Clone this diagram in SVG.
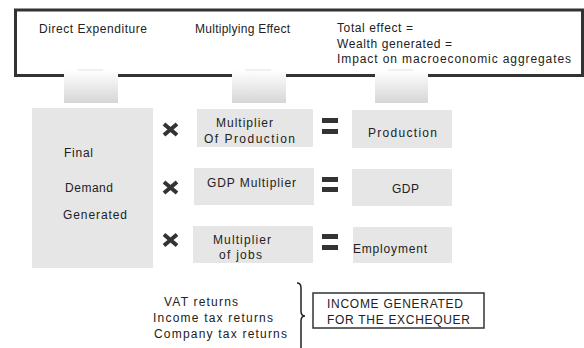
<svg xmlns="http://www.w3.org/2000/svg" width="584" height="348" viewBox="0 0 584 348">
<style>
text{font-family:"Liberation Sans",Arial,sans-serif;fill:#222;}
.t{font-size:12px;}
.m{font-size:12px;}
.b{fill:#e6e6e6;}
.op{stroke:#333;stroke-width:4;stroke-linecap:butt;fill:none;}
.eq{fill:#333;}
</style>
<defs>
<linearGradient id="stub" x1="0" y1="0" x2="0" y2="1">
<stop offset="0" stop-color="#ffffff"/>
<stop offset="1" stop-color="#d6d6d6"/>
</linearGradient>
</defs>
<rect width="584" height="348" fill="#fff"/>
<g id="header">
<rect x="15.5" y="10" width="567" height="65.5" fill="#fff" stroke="#333" stroke-width="3"/>
<text class="t" x="39" y="33" textLength="108" lengthAdjust="spacing">Direct Expenditure</text>
<text class="t" x="195" y="33" textLength="95" lengthAdjust="spacing">Multiplying Effect</text>
<text class="t" x="337" y="32" textLength="76" lengthAdjust="spacing">Total effect =</text>
<text class="t" x="337" y="48" textLength="115" lengthAdjust="spacing">Wealth generated =</text>
<text class="t" x="337" y="63" textLength="234" lengthAdjust="spacing">Impact on macroeconomic aggregates</text>
</g>
<g id="connectors">
<rect x="64" y="70" width="54" height="33" fill="url(#stub)"/>
<line x1="78" y1="70" x2="103" y2="70" stroke="#e2e2e2" stroke-width="1"/>
<rect x="232" y="70" width="54" height="33" fill="url(#stub)"/>
<line x1="245" y1="70" x2="271" y2="70" stroke="#e2e2e2" stroke-width="1"/>
<rect x="375" y="70" width="53" height="33" fill="url(#stub)"/>
<line x1="388" y1="70" x2="413" y2="70" stroke="#e2e2e2" stroke-width="1"/>
</g>
<g id="final-demand">
<rect class="b" x="32" y="108" width="121" height="160"/>
<text class="m" x="64" y="157" textLength="29" lengthAdjust="spacing">Final</text>
<text class="m" x="65" y="192" textLength="48" lengthAdjust="spacing">Demand</text>
<text class="m" x="63" y="219" textLength="64" lengthAdjust="spacing">Generated</text>
</g>
<g id="times">
<path class="op" d="M164,124 L177,135 M177,124 L164,135"/>
<path class="op" d="M164,182 L177,193 M177,182 L164,193"/>
<path class="op" d="M164,234.5 L177,245.5 M177,234.5 L164,245.5"/>
</g>
<g id="mult-production">
<rect class="b" x="197" y="109" width="116" height="38"/>
<text class="m" x="216" y="127" textLength="57" lengthAdjust="spacing">Multiplier</text>
<text class="m" x="204" y="143" textLength="91" lengthAdjust="spacing">Of Production</text>
</g>
<g id="mult-gdp">
<rect class="b" x="194" y="168" width="120" height="37"/>
<text class="m" x="207" y="187" textLength="89" lengthAdjust="spacing">GDP Multiplier</text>
</g>
<g id="mult-jobs">
<rect class="b" x="193" y="226" width="120" height="37"/>
<text class="m" x="213" y="244" textLength="58" lengthAdjust="spacing">Multiplier</text>
<text class="m" x="219" y="259" textLength="43" lengthAdjust="spacing">of jobs</text>
</g>
<g id="equals">
<rect class="eq" x="322" y="118" width="16" height="5"/>
<rect class="eq" x="322" y="129" width="16" height="5"/>
<rect class="eq" x="322" y="177" width="16" height="5"/>
<rect class="eq" x="322" y="187" width="16" height="5"/>
<rect class="eq" x="322" y="234" width="16" height="5"/>
<rect class="eq" x="322" y="245" width="16" height="5"/>
</g>
<g id="production">
<rect class="b" x="352" y="110" width="100" height="38"/>
<text class="m" x="368" y="137" textLength="69" lengthAdjust="spacing">Production</text>
</g>
<g id="gdp">
<rect class="b" x="352" y="169" width="100" height="37"/>
<text class="m" x="392" y="193" textLength="27" lengthAdjust="spacing">GDP</text>
</g>
<g id="employment">
<rect class="b" x="353" y="227" width="99" height="36"/>
<text class="m" x="353" y="253" textLength="74" lengthAdjust="spacing">Employment</text>
</g>
<g id="returns">
<text class="m" x="164" y="306" textLength="74" lengthAdjust="spacing">VAT returns</text>
<text class="m" x="153" y="322" textLength="120" lengthAdjust="spacing">Income tax returns</text>
<text class="m" x="154" y="338" textLength="133" lengthAdjust="spacing">Company tax returns</text>
<path d="M297,283 Q301,283 301,288 L301,311 Q301,316 305,316 Q301,316 301,321 L301,348" fill="none" stroke="#222" stroke-width="1.5"/>
</g>
<g id="exchequer">
<rect x="313" y="293" width="171" height="35" fill="#fff" stroke="#333" stroke-width="1.5"/>
<text class="m" x="327" y="308" textLength="136" lengthAdjust="spacing">INCOME GENERATED</text>
<text class="m" x="327" y="324" textLength="143" lengthAdjust="spacing">FOR THE EXCHEQUER</text>
</g>
</svg>
